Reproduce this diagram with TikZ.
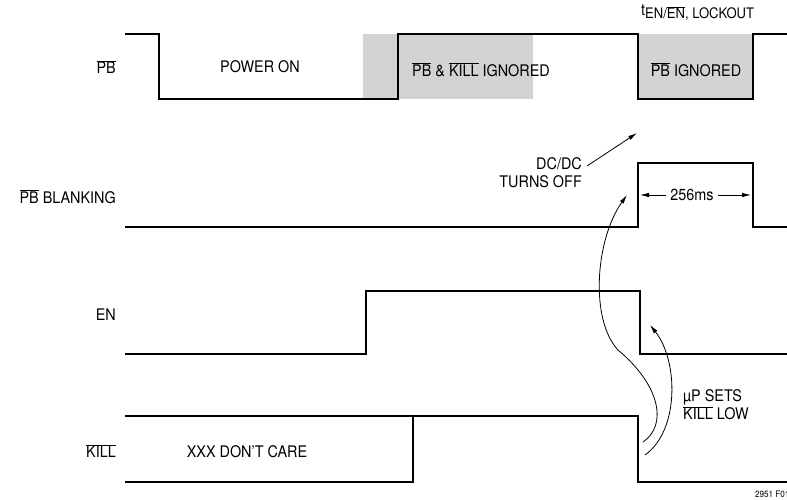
\documentclass[tikz,border=0pt]{standalone}
\usepackage{fontspec}
\setmainfont{TeX Gyre Heros}[FakeStretch=0.9]
\usetikzlibrary{arrows.meta}
\definecolor{ignoregray}{RGB}{209,211,212}
\newcommand{\ovl}[1]{$\overline{\mbox{#1}}$}

\begin{document}
\begin{tikzpicture}[x=1pt,y=-1pt,
  wave/.style={line width=2.2pt},
  lbl/.style={font=\fontsize{16}{18}\selectfont, inner sep=0pt},
  note/.style={line width=0.8pt, -{Latex[length=9pt,width=4.5pt]}}]
  \useasboundingbox (0,0) rectangle (787,499);

  % shaded windows
  \fill[ignoregray] (363,34) rectangle (533,99);
  \fill[ignoregray] (638,34) rectangle (753,99);

  % PB
  \node[lbl, anchor=east] (pbL) at (116,67) {\ovl{PB}};
  \draw[wave] (125,34) -| (159,99) -| (398,34) -| (638,99) -| (753,34) -- (787,34);
  \node[lbl] (powerOn) at (260,67) {POWER ON};
  \node[lbl] (ignBoth) at (481,70) {\ovl{PB} \& \ovl{KILL} IGNORED};
  \node[lbl] (ignPb) at (696,70) {\ovl{PB} IGNORED};
  \node[lbl, anchor=west] (lockout) at (641,13) {t\raisebox{-0.35ex}{\fontsize{14.5}{15}\selectfont EN/\ovl{EN}, LOCKOUT}};

  % PB BLANKING
  \node[lbl, anchor=east] (blankL) at (116,197) {\ovl{PB} BLANKING};
  \draw[wave] (125,227) -| (638,163) -| (753,227) -- (787,227);
  \node[lbl, inner sep=4pt] (width) at (692,195) {256ms};
  \coordinate (blankRise) at (640,195);
  \coordinate (blankFall) at (751,195);
  \draw[note] (width.west) -- (blankRise);
  \draw[note] (width.east) -- (blankFall);
  \node[lbl, anchor=east, align=right] (dcdc) at (582,173) {DC/DC\\TURNS OFF};
  \coordinate (pbFall) at (637,133);
  \draw[note] ([xshift=5pt,yshift=7pt]dcdc.east) -- (pbFall);

  % EN
  \node[lbl, anchor=east] (enL) at (116,315) {EN};
  \draw[wave] (125,354) -| (366,291) -| (640,354) -- (787,354);

  % KILL
  \node[lbl, anchor=east] (killL) at (116,451) {\ovl{KILL}};
  \draw[wave] (125,482) -| (413,416);
  \draw[wave] (125,416) -| (638,482) -- (787,482);
  \node[lbl] (dontCare) at (247,452) {XXX DON'T CARE};
  \node[lbl, anchor=west, align=left] (upSets) at (683,405) {µP SETS\\\ovl{KILL} LOW};

  % cause arrows
  \coordinate (killA) at (643,442);
  \coordinate (killB) at (645,455);
  \coordinate (bend) at (618,350);
  \coordinate (blankHit) at (627,195);
  \coordinate (enHit) at (650,325);
  \draw[note] (killA) .. controls (668,425) and (660,385) .. (bend)
    .. controls (590,320) and (595,240) .. (blankHit);
  \draw[note] (killB) .. controls (680,430) and (678,360) .. (enHit);

  \node[font=\fontsize{9}{10}\selectfont, anchor=west, inner sep=0pt] (figNo) at (755,494) {2951 F01};
\end{tikzpicture}
\end{document}
